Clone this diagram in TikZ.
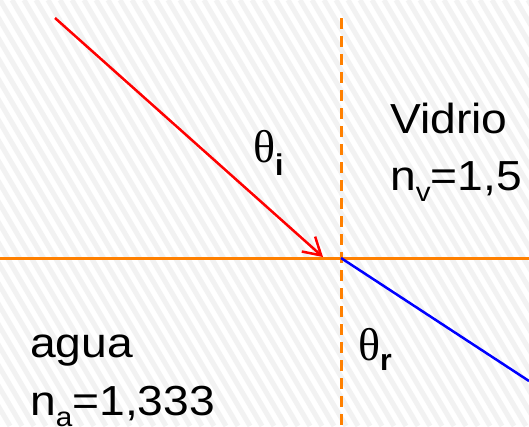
\documentclass[tikz,border=0pt]{standalone}
\usepackage{fontspec}
\setmainfont{Liberation Sans}
\newfontfamily\thetafont{Liberation Serif}
\usetikzlibrary{arrows.meta}
\newcommand{\widetext}[1]{\scalebox{1.1}[1]{#1}}
\newcommand{\lbl}{\fontsize{42}{50}\selectfont}
\newcommand{\sublbl}{\fontsize{27}{30}\selectfont}
\begin{document}
\begin{tikzpicture}[x=1pt,y=-1pt,
  hatch/.style={draw=black!5,line width=5pt},
  txt/.style={anchor=base west,inner sep=0pt,font=\lbl},
  interface/.style={draw=orange1,line width=3pt},
  normalline/.style={draw=orange1,line width=3pt,dash pattern=on 11pt off 7pt},
  incident/.style={draw=red,line width=2.5pt,-{Straight Barb[length=17pt,width=20pt]}},
  refracted/.style={draw=blue,line width=2.5pt}]
\definecolor{orange1}{RGB}{255,128,0}
\useasboundingbox (0,0) rectangle (529,426);
\fill[white] (0,0) rectangle (529,426);
\begin{scope}
  \clip (0,0) rectangle (529,426);
  \foreach \i in {-300,-288,...,540} \draw[hatch] (\i,0) -- ++(250,426);
\end{scope}
% points
\coordinate (L) at (0,258);
\coordinate (R) at (529,258);
\coordinate (T) at (341,18);
\coordinate (B) at (341,430);
\coordinate (O) at (341,258);
\coordinate (S) at (55,18);
\coordinate (E) at (323,257);
\coordinate (F) at (529,381);
% lines
\draw[interface] (L) -- (R);
\draw[normalline] (T) -- (B);
\draw[incident] (S) -- (E);
\draw[refracted] (O) -- (F);
% texts
\node[txt] (vidrio) at (390,133) {\widetext{Vidrio}};
\node[txt] (nv) at (390,190) {\widetext{n\raisebox{-11pt}{\sublbl v}=1,5}};
\node[txt] (agua) at (30,357) {\widetext{agua}};
\node[txt] (na) at (30,415) {\widetext{n\raisebox{-11pt}{\sublbl a}=1,333}};
\node[txt] (thi) at (253,162) {{\fontsize{46}{50}\thetafont θ}\raisebox{-13pt}{\fontsize{30}{32}\selectfont\bfseries i}};
\node[txt] (thr) at (358,360) {{\fontsize{46}{50}\thetafont θ}\raisebox{-10pt}{\fontsize{30}{32}\selectfont\bfseries r}};
\end{tikzpicture}
\end{document}
